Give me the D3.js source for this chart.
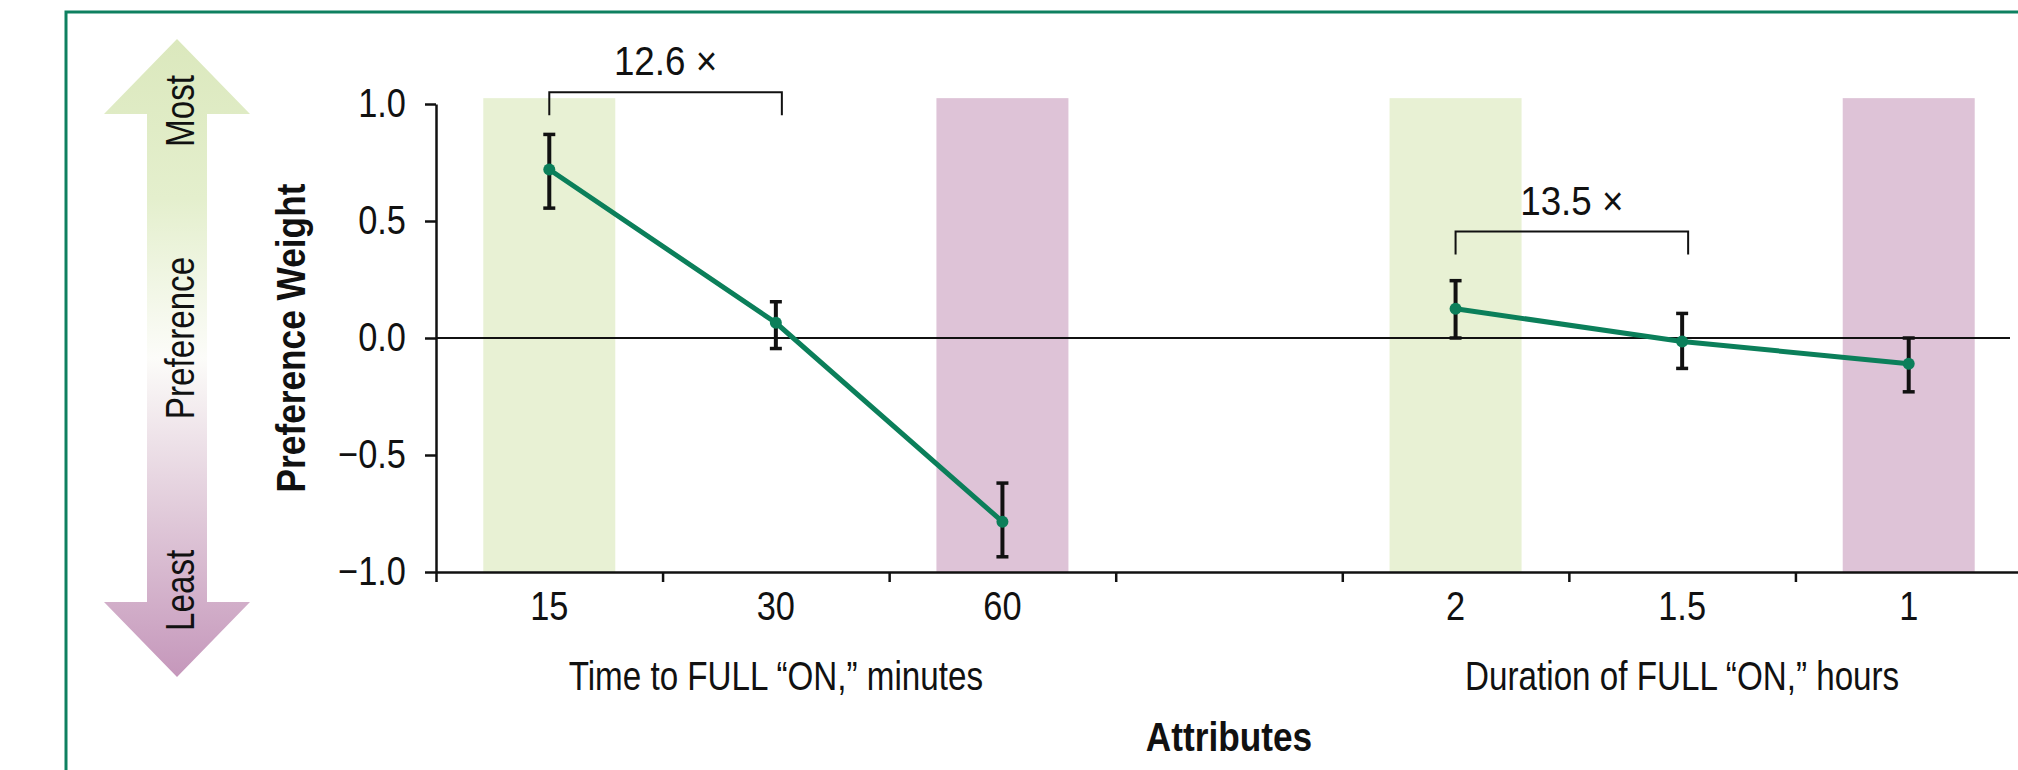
<!DOCTYPE html>
<html>
<head>
<meta charset="utf-8">
<script src="https://cdn.jsdelivr.net/npm/d3@7"></script>
<style>
    html, body { margin: 0; padding: 0; background: #fff; }
    svg { display: block; }
    text {
        font-family: 'Liberation Sans', Arial, sans-serif;
        fill: #111;
    }
    .axis path, .axis line { stroke: #111; stroke-width: 2.5; }
    .axis text { font-size: 40px; font-family: 'Liberation Sans', Arial, sans-serif; }
</style>
</head>
<body>
<svg id="chart"></svg>
<script>
// slots along the x axis, 'gap' is the empty column between the two attributes
const slots = ['15', '30', '60', 'gap', '2', '1.5', '1']

const timeLevels = ['15', '30', '60']
const timeWeights = [0.72, 0.065, -0.785]
const timeLow = [0.555, -0.045, -0.935]
const timeHigh = [0.87, 0.155, -0.62]

const durationLevels = ['2', '1.5', '1']
const durationWeights = [0.125, -0.015, -0.11]
const durationLow = [0.0, -0.13, -0.23]
const durationHigh = [0.245, 0.105, 0.0]

const mostPreferred = ['15', '2']
const leastPreferred = ['60', '1']

const ratioFrom = ['15', '2']
const ratioTo = ['30', '1.5']
const ratioLabels = ['12.6 \u00d7', '13.5 \u00d7']
const ratioLevels = [1.05, 0.455]

const yTicks = [-1, -0.5, 0, 0.5, 1]
const shadeTop = 1.025

const groupTitles = ['Time to FULL \u201cON,\u201d minutes', 'Duration of FULL \u201cON,\u201d hours']
const groupTitleAt = ['30', '1.5']

const config = {
    lineColor: '#0b7f5a',
    frameColor: '#0e8060',
    mostColor: '#e8f1d4',
    leastColor: '#dec3d7',
}

const width = 2018
const height = 770

// the original typeface is a condensed grotesque, so squeeze the regular one
function squeeze(sel, sx = 0.83) {
    sel.each(function () {
        const t = d3.select(this)
        const x0 = +t.attr('x') || 0
        const y0 = +t.attr('y') || 0
        const tr = t.attr('transform') || ''
        t.attr('x', 0).attr('y', 0)
            .attr('transform', `${tr} translate(${x0},${y0}) scale(${sx},1)`)
    })
}

const svg = d3.select('#chart').attr('width', width).attr('height', height)

// frame (open on the right and bottom, it runs past the picture)
svg.append('path')
    .attr('d', `M66,${height + 10} V12 H${width + 10}`)
    .attr('fill', 'none')
    .attr('stroke', config.frameColor)
    .attr('stroke-width', 3)

const x = d3.scaleBand().domain(slots).range([436, 2022]).padding(0)
const y = d3.scaleLinear().domain([-1, 1]).range([572, 104])
const cx = d => x(d) + x.bandwidth() / 2
const shadeWidth = 132

// shaded columns
svg.append('g').selectAll('rect')
    .data(mostPreferred.map(d => ({ level: d, color: config.mostColor }))
        .concat(leastPreferred.map(d => ({ level: d, color: config.leastColor }))))
    .join('rect')
    .attr('x', d => cx(d.level) - shadeWidth / 2)
    .attr('width', shadeWidth)
    .attr('y', y(shadeTop))
    .attr('height', y(-1) - y(shadeTop))
    .attr('fill', d => d.color)

// zero line
svg.append('line')
    .attr('x1', x.range()[0]).attr('x2', 2010)
    .attr('y1', y(0)).attr('y2', y(0))
    .attr('stroke', '#111').attr('stroke-width', 2)

// y axis
const yAxis = d3.axisLeft(y)
    .tickValues(yTicks)
    .tickFormat(d3.format('.1f'))
    .tickSize(11)
    .tickSizeOuter(0)
    .tickPadding(19)
const yAxisG = svg.append('g').attr('class', 'axis')
    .attr('transform', `translate(${x.range()[0]},0)`)
    .call(yAxis)
squeeze(yAxisG.selectAll('text'), 0.86)

// x axis: boundary ticks
const xi = d3.scaleLinear().domain([0, slots.length]).range(x.range())
svg.append('g').attr('class', 'axis')
    .attr('transform', `translate(0,${y(-1)})`)
    .call(d3.axisBottom(xi).tickValues(d3.range(slots.length + 1)).tickFormat('').tickSize(10).tickSizeOuter(0))

// x axis: level labels
const xLabels = svg.append('g').attr('class', 'axis')
    .attr('transform', `translate(0,${y(-1)})`)
    .call(d3.axisBottom(x).tickSize(0).tickPadding(20).tickFormat(d => d === 'gap' ? '' : d))
xLabels.select('.domain').remove()
squeeze(xLabels.selectAll('text'), 0.86)

// group titles
svg.append('g').selectAll('text')
    .data(groupTitles)
    .join('text')
    .attr('x', (d, i) => cx(groupTitleAt[i]))
    .attr('y', 690)
    .attr('text-anchor', 'middle')
    .attr('font-size', 40)
    .text(d => d)
    .call(squeeze)

svg.append('text')
    .attr('x', cx('gap'))
    .attr('y', 751)
    .attr('text-anchor', 'middle')
    .attr('font-size', 41)
    .attr('font-weight', 'bold')
    .text('Attributes')
    .call(squeeze, 0.86)

svg.append('text')
    .attr('transform', `translate(305,${y(0)}) rotate(-90)`)
    .attr('text-anchor', 'middle')
    .attr('font-size', 41)
    .attr('font-weight', 'bold')
    .text('Preference Weight')
    .call(squeeze, 0.86)

// series
const series = [
    timeLevels.map((d, i) => ({ level: d, w: timeWeights[i], lo: timeLow[i], hi: timeHigh[i] })),
    durationLevels.map((d, i) => ({ level: d, w: durationWeights[i], lo: durationLow[i], hi: durationHigh[i] })),
]

const line = d3.line()
    .x(d => cx(d.level))
    .y(d => y(d.w))

svg.append('g').selectAll('path')
    .data(series)
    .join('path')
    .attr('d', line)
    .attr('fill', 'none')
    .attr('stroke', config.lineColor)
    .attr('stroke-width', 5)

const points = series.flat()
const capW = 12
const bars = svg.append('g').attr('stroke', '#111')
bars.selectAll('line.bar')
    .data(points)
    .join('line')
    .attr('class', 'bar')
    .attr('x1', d => cx(d.level)).attr('x2', d => cx(d.level))
    .attr('y1', d => y(d.lo)).attr('y2', d => y(d.hi))
    .attr('stroke-width', 4)
bars.selectAll('line.cap')
    .data(points.flatMap(d => [{ level: d.level, v: d.lo }, { level: d.level, v: d.hi }]))
    .join('line')
    .attr('class', 'cap')
    .attr('x1', d => cx(d.level) - capW / 2).attr('x2', d => cx(d.level) + capW / 2)
    .attr('y1', d => y(d.v)).attr('y2', d => y(d.v))
    .attr('stroke-width', 3.5)

svg.append('g').selectAll('circle')
    .data(points)
    .join('circle')
    .attr('cx', d => cx(d.level))
    .attr('cy', d => y(d.w))
    .attr('r', 6)
    .attr('fill', config.lineColor)

// ratio brackets
const legLen = 23
const brackets = svg.append('g')
ratioLabels.forEach((label, i) => {
    const x1 = cx(ratioFrom[i])
    const x2 = cx(ratioTo[i]) + 6
    const yy = y(ratioLevels[i])
    brackets.append('path')
        .attr('d', `M${x1},${yy + legLen} V${yy} H${x2} V${yy + legLen}`)
        .attr('fill', 'none')
        .attr('stroke', '#111')
        .attr('stroke-width', 2)
    brackets.append('text')
        .attr('x', (x1 + x2) / 2)
        .attr('y', yy - 17)
        .attr('text-anchor', 'middle')
        .attr('font-size', 40)
        .text(label)
        .call(squeeze, 0.92)
})

// preference arrow on the left
const defs = svg.append('defs')
const grad = defs.append('linearGradient')
    .attr('id', 'prefGrad')
    .attr('x1', 0).attr('x2', 0).attr('y1', 0).attr('y2', 1)
const stops = [
    [0, '#dbe8bd'], [0.25, '#e4efcd'], [0.5, '#fcfcf9'], [0.75, '#e0c9d9'], [1, '#c597bb'],
]
grad.selectAll('stop')
    .data(stops)
    .join('stop')
    .attr('offset', d => d[0])
    .attr('stop-color', d => d[1])

const arrow = { cx: 177, top: 39, bottom: 677, headH: 75, headHalf: 73, shaftHalf: 30 }
const arrowPath = d3.path()
arrowPath.moveTo(arrow.cx, arrow.top)
arrowPath.lineTo(arrow.cx + arrow.headHalf, arrow.top + arrow.headH)
arrowPath.lineTo(arrow.cx + arrow.shaftHalf, arrow.top + arrow.headH)
arrowPath.lineTo(arrow.cx + arrow.shaftHalf, arrow.bottom - arrow.headH)
arrowPath.lineTo(arrow.cx + arrow.headHalf, arrow.bottom - arrow.headH)
arrowPath.lineTo(arrow.cx, arrow.bottom)
arrowPath.lineTo(arrow.cx - arrow.headHalf, arrow.bottom - arrow.headH)
arrowPath.lineTo(arrow.cx - arrow.shaftHalf, arrow.bottom - arrow.headH)
arrowPath.lineTo(arrow.cx - arrow.shaftHalf, arrow.top + arrow.headH)
arrowPath.lineTo(arrow.cx - arrow.headHalf, arrow.top + arrow.headH)
arrowPath.closePath()
svg.append('path')
    .attr('d', arrowPath.toString())
    .attr('fill', 'url(#prefGrad)')

const arrowText = [
    { text: 'Most', y: 75, anchor: 'end' },
    { text: 'Preference', y: 338, anchor: 'middle' },
    { text: 'Least', y: 631, anchor: 'start' },
]
svg.append('g').selectAll('text')
    .data(arrowText)
    .join('text')
    .attr('transform', d => `translate(194,${d.y}) rotate(-90)`)
    .attr('text-anchor', d => d.anchor)
    .attr('font-size', 40)
    .text(d => d.text)
    .call(squeeze)
</script>
</body>
</html>
